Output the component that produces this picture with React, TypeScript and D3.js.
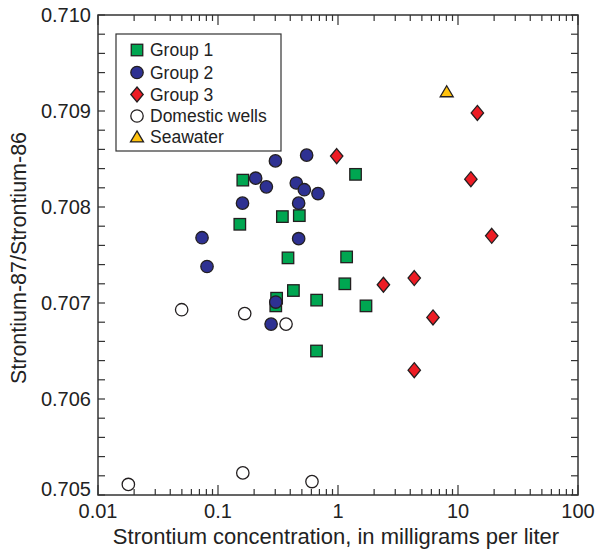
import React from "react";
import * as d3 from "d3";

const group1X = [0.161, 0.152, 0.344, 0.476, 0.383, 1.18, 1.14, 0.425, 0.308, 0.303, 0.664, 0.662, 1.4, 1.71];
const group1Y = [0.70828, 0.70782, 0.7079, 0.70791, 0.70747, 0.70748, 0.7072, 0.70713, 0.70705, 0.70697, 0.70703, 0.7065, 0.70834, 0.70697];

const group2X = [0.301, 0.548, 0.206, 0.253, 0.449, 0.524, 0.681, 0.16, 0.47, 0.0736, 0.47, 0.081, 0.303, 0.277];
const group2Y = [0.70848, 0.70854, 0.7083, 0.70821, 0.70825, 0.70818, 0.70814, 0.70804, 0.70804, 0.70768, 0.70767, 0.70738, 0.70701, 0.70678];

const group3X = [0.975, 14.5, 12.8, 19.1, 4.32, 2.39, 6.19, 4.32];
const group3Y = [0.70853, 0.70898, 0.70829, 0.7077, 0.70726, 0.70719, 0.70685, 0.7063];

const domesticX = [0.0498, 0.167, 0.369, 0.0179, 0.161, 0.607];
const domesticY = [0.70693, 0.70689, 0.70678, 0.70511, 0.70523, 0.70514];

const seawaterX = [8.05];
const seawaterY = [0.7092];

const xTickValues = [0.01, 0.1, 1, 10, 100];
const xTickLabels = ["0.01", "0.1", "1", "10", "100"];
const yTickValues = [0.705, 0.706, 0.707, 0.708, 0.709, 0.71];
const yTickLabels = ["0.705", "0.706", "0.707", "0.708", "0.709", "0.710"];

const legendLabels = ["Group 1", "Group 2", "Group 3", "Domestic wells", "Seawater"];

const W = 596;
const H = 549;
const M = { left: 98, right: 578, top: 15, bottom: 495 };
const FONT = "'Liberation Sans', Arial, Helvetica, sans-serif";

const GREEN = "#00a651";
const BLUE = "#2e3192";
const RED = "#ed1c24";
const YELLOW = "#ffc20e";
const STROKE = "#231f20";
const AXIS = "#333";

const x = d3.scaleLog().domain([0.01, 100]).range([M.left, M.right]);
const y = d3.scaleLinear().domain([0.705, 0.71]).range([M.bottom, M.top]);

function Square({ cx, cy }: { cx: number; cy: number }) {
  const s = 11.5;
  return <rect x={cx - s / 2} y={cy - s / 2} width={s} height={s} fill={GREEN} stroke={STROKE} strokeWidth={1.3} />;
}
function Circle({ cx, cy, fill }: { cx: number; cy: number; fill: string }) {
  return <circle cx={cx} cy={cy} r={6.2} fill={fill} stroke={STROKE} strokeWidth={1.3} />;
}
function Diamond({ cx, cy }: { cx: number; cy: number }) {
  const w = 6.2, h = 7.5;
  return (
    <path
      d={`M${cx},${cy - h}L${cx + w},${cy}L${cx},${cy + h}L${cx - w},${cy}Z`}
      fill={RED}
      stroke={STROKE}
      strokeWidth={1.3}
    />
  );
}
function Triangle({ cx, cy }: { cx: number; cy: number }) {
  const w = 6.5, h = 11;
  return (
    <path
      d={`M${cx},${cy - h * 0.55}L${cx + w},${cy + h * 0.45}L${cx - w},${cy + h * 0.45}Z`}
      fill={YELLOW}
      stroke={STROKE}
      strokeWidth={1.3}
    />
  );
}

export default function App() {
  const minorX: number[] = [];
  for (let e = -2; e < 2; e++) {
    for (let m = 2; m <= 9; m++) minorX.push(m * Math.pow(10, e));
  }
  const minorY = d3.range(0, 26).map((i) => 0.705 + i * 0.0002);

  const legendRows = [50, 72.5, 94.5, 116, 137];

  return (
    <svg width={W} height={H} style={{ display: "block", position: "absolute", left: 0, top: 0 }} fontFamily={FONT}>
      <rect x={0} y={0} width={W} height={H} fill="#fff" />
      {/* ticks */}
      <g stroke={AXIS} strokeWidth={1.2}>
        {minorY.map((v, i) => {
          const yy = y(v);
          return (
            <g key={"yt" + i}>
              <line x1={M.left} x2={M.left + 7} y1={yy} y2={yy} />
              <line x1={M.right} x2={M.right - 7} y1={yy} y2={yy} />
            </g>
          );
        })}
        {minorX.map((v, i) => {
          const xx = x(v);
          return (
            <g key={"xm" + i}>
              <line x1={xx} x2={xx} y1={M.bottom} y2={M.bottom - 6} />
              <line x1={xx} x2={xx} y1={M.top} y2={M.top + 6} />
            </g>
          );
        })}
        {xTickValues.map((v, i) => {
          const xx = x(v);
          return (
            <g key={"xM" + i}>
              <line x1={xx} x2={xx} y1={M.bottom} y2={M.bottom - 10} />
              <line x1={xx} x2={xx} y1={M.top} y2={M.top + 10} />
            </g>
          );
        })}
      </g>
      <rect
        x={M.left}
        y={M.top}
        width={M.right - M.left}
        height={M.bottom - M.top}
        fill="none"
        stroke={AXIS}
        strokeWidth={1.5}
      />
      {/* tick labels */}
      <g fontSize={20} fill="#222">
        {yTickValues.map((v, i) => (
          <text key={"yl" + i} x={M.left - 7} y={y(v) + (i === 0 ? 1 : 7)} textAnchor="end">
            {yTickLabels[i]}
          </text>
        ))}
        {xTickValues.map((v, i) => (
          <text key={"xl" + i} x={x(v)} y={518} textAnchor="middle">
            {xTickLabels[i]}
          </text>
        ))}
      </g>
      {/* axis titles */}
      <text x={336} y={544} textAnchor="middle" fontSize={22} fill="#222">
        Strontium concentration, in milligrams per liter
      </text>
      <text
        transform={`translate(26,258) rotate(-90)`}
        textAnchor="middle"
        fontSize={21.5}
        fill="#222"
      >
        Strontium-87/Strontium-86
      </text>
      {/* data */}
      <g>
        {domesticX.map((v, i) => (
          <Circle key={"d" + i} cx={x(v)} cy={y(domesticY[i])} fill="#fff" />
        ))}
        {group1X.map((v, i) => (
          <Square key={"g1" + i} cx={x(v)} cy={y(group1Y[i])} />
        ))}
        {group2X.map((v, i) => (
          <Circle key={"g2" + i} cx={x(v)} cy={y(group2Y[i])} fill={BLUE} />
        ))}
        {group3X.map((v, i) => (
          <Diamond key={"g3" + i} cx={x(v)} cy={y(group3Y[i])} />
        ))}
        {seawaterX.map((v, i) => (
          <Triangle key={"s" + i} cx={x(v)} cy={y(seawaterY[i])} />
        ))}
      </g>
      {/* legend */}
      <rect x={116} y={34} width={165} height={117} fill="#fff" stroke={AXIS} strokeWidth={1.2} />
      <Square cx={137} cy={legendRows[0]} />
      <Circle cx={137} cy={legendRows[1]} fill={BLUE} />
      <Diamond cx={137} cy={legendRows[2]} />
      <Circle cx={137} cy={legendRows[3]} fill="#fff" />
      <Triangle cx={137} cy={legendRows[4]} />
      <g fontSize={17.5} fill="#222">
        {legendLabels.map((l, i) => (
          <text key={"ll" + i} x={150} y={legendRows[i] + 6}>
            {l}
          </text>
        ))}
      </g>
    </svg>
  );
}
